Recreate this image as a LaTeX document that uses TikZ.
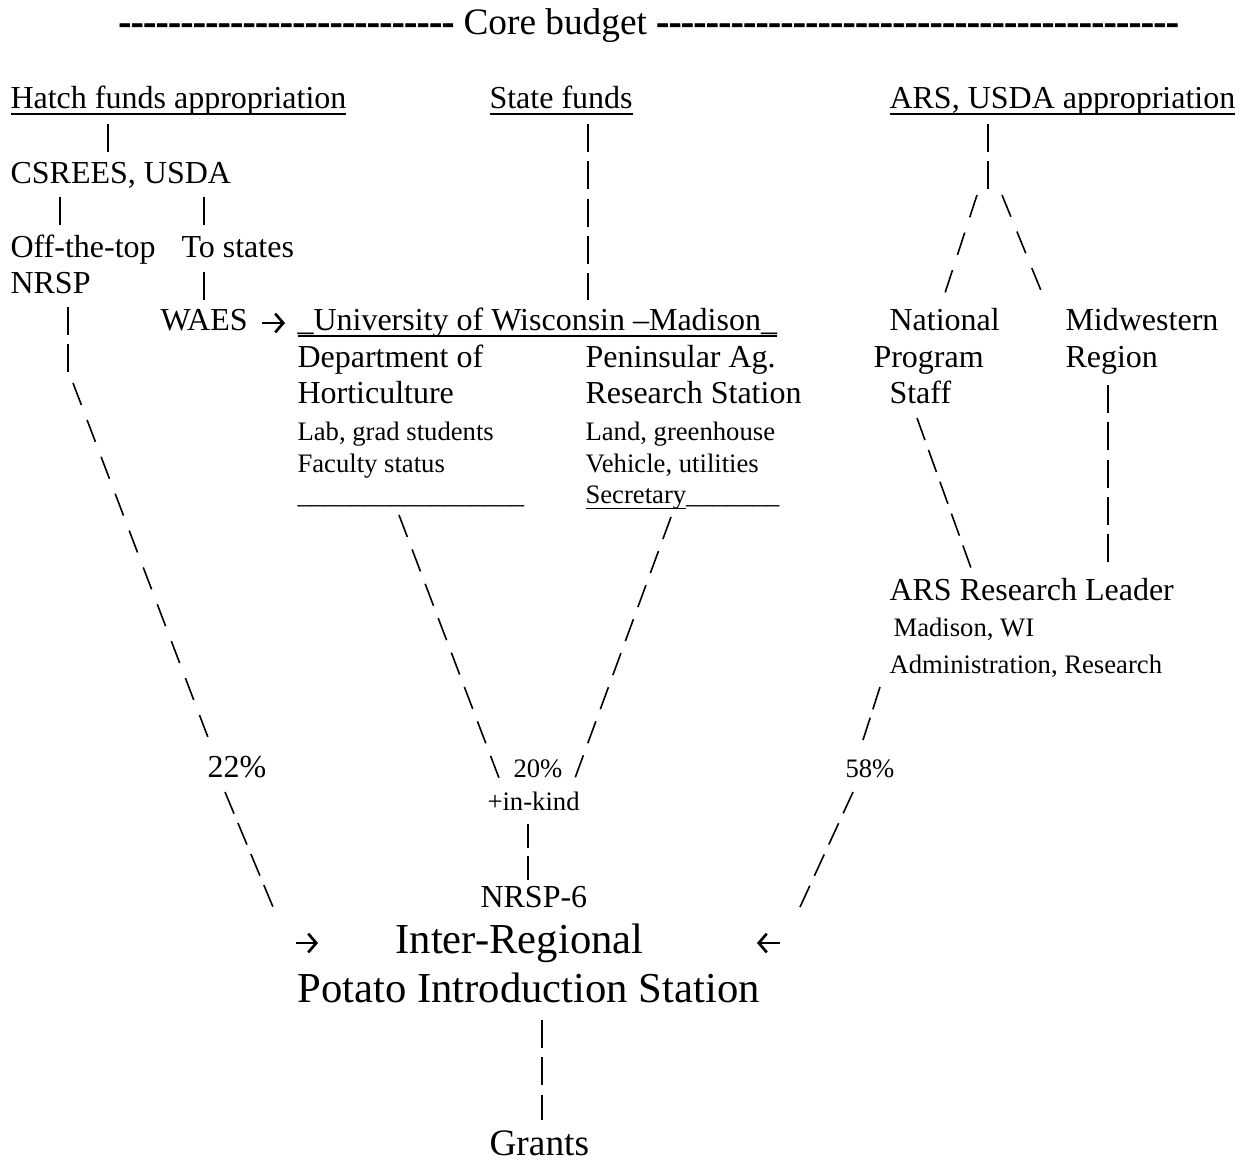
\documentclass[tikz,border=0pt]{standalone}
\usepackage{fontspec}
\setmainfont{Liberation Serif}
\newfontfamily\dashfont{Liberation Serif}[BoldFeatures={FakeBold=2}]
\usetikzlibrary{calc,arrows.meta}
\newcommand\undl[1]{\setbox0=\hbox{#1}\rlap{\rule[-.22em]{\wd0}{.05em}}\box0}
\newcommand\dashrun[1]{{\dashfont\bfseries\foreach\dd in {1,...,#1}{-\kern0pt}}}
\begin{document}
\begin{tikzpicture}[x=0.375pt, y=-0.375pt,
    txt/.style={anchor=base west, inner sep=0pt, font=\fontsize{12}{14}\selectfont},
    smalltxt/.style={txt, font=\fontsize{10}{12}\selectfont},
    headtxt/.style={txt, font=\fontsize{14}{16}\selectfont},
    bigtxt/.style={txt, font=\fontsize{16}{19}\selectfont},
    bars/.style={line width=.6pt, dash pattern=on 10.5pt off 3.5pt},
    slants/.style={line width=.6pt, dash pattern=on 8.8pt off #1},
    slants/.default=6pt,
    arr/.style={line width=1pt, -{Straight Barb[length=3pt,width=7pt]}}]
  \useasboundingbox (0,0) rectangle (1242,1161);
  \node[headtxt] (head) at (118,34) {\dashrun{27} Core budget \dashrun{42}};
  % sources
  \node[txt] (hatch) at (10,108) {\undl{Hatch funds appropriation}};
  \node[txt] (state) at (489,108) {\undl{State funds}};
  \node[txt] (arsapp) at (889,108) {\undl{ARS, USDA appropriation}};
  \node[txt] (csrees) at (10,183) {CSREES, USDA};
  \node[txt] (offtop) at (10,257) {Off-the-top};
  \node[txt] (nrsp) at (10,293) {NRSP};
  \node[txt] (tostates) at (181,257) {To states};
  \node[txt] (waes) at (160,330) {WAES};
  % university
  \node[txt] (uw) at (297,330) {\undl{\_University of Wisconsin –Madison\_}};
  \node[txt] (dept) at (297,367) {Department of};
  \node[txt] (hort) at (297,403) {Horticulture};
  \node[smalltxt] (lab) at (297,440) {Lab, grad students};
  \node[smalltxt] (fac) at (297,472) {Faculty status};
  \node[smalltxt] (hline) at (297,503) {\_\_\_\_\_\_\_\_\_\_\_\_\_\_\_\_\_};
  \node[txt] (pen) at (585,367) {Peninsular Ag.};
  \node[txt] (pres) at (585,403) {Research Station};
  \node[smalltxt] (land) at (585,440) {Land, greenhouse};
  \node[smalltxt] (veh) at (585,472) {Vehicle, utilities};
  \node[smalltxt] (sec) at (585,503) {\undl{Secretary}\_\_\_\_\_\_\_};
  % ARS
  \node[txt] (natl) at (889,330) {National};
  \node[txt] (prog) at (873,367) {Program};
  \node[txt] (staff) at (889,403) {Staff};
  \node[txt] (midw) at (1065,330) {Midwestern};
  \node[txt] (region) at (1065,367) {Region};
  \node[txt] (leader) at (889,600) {ARS Research Leader};
  \node[smalltxt] (mad) at (893,636) {Madison, WI};
  \node[smalltxt] (admin) at (889,673) {Administration, Research};
  % shares
  \node[txt] (p22) at (207,777) {22\%};
  \node[smalltxt] (p20) at (513,777) {20\%};
  \node[smalltxt] (inkind) at (487,810) {+in-kind};
  \node[smalltxt] (p58) at (845,777) {58\%};
  \node[txt] (nrsp6) at (480,907) {NRSP-6};
  \node[bigtxt] (inter) at (395,953) {Inter-Regional};
  \node[bigtxt] (potato) at (297,1002) {Potato Introduction Station};
  \node[headtxt] (grants) at (489,1155) {Grants};

  % Hatch branch
  \draw[bars] ($(hatch.base west)+(98,16)$) -- ($(csrees.base west)+(98,-31)$);
  \draw[bars] ($(csrees.base west)+(50,14)$) -- ($(offtop.base west)+(50,-30)$);
  \draw[bars] ($(csrees.base west)+(194,14)$) -- ($(tostates.base west)+(23,-30)$);
  \draw[bars] ($(tostates.base west)+(23,15)$) -- ($(waes.base west)+(44,-30)$);
  \draw[arr] ($(waes.base west)+(102,-7)$) -- ($(uw.base west)+(-12,-7)$);
  \draw[bars] ($(nrsp.base west)+(58,14)$) -- ($(nrsp.base west)+(58,80)$);
  \draw[slants] ($(nrsp.base west)+(63,90)$) -- ($(p22.base west)+(2,-37)$);
  \draw[slants=3.8pt] ($(p22.base west)+(18,15)$) -- ($(inter.base west)+(-122,-46)$);
  \draw[arr] ($(inter.base west)+(-99,-10)$) -- ($(inter.base west)+(-77,-10)$);
  % state branch
  \draw[bars] ($(state.base west)+(99,16)$) -- ($(uw.base west)+(291,-30)$);
  \draw[slants=5pt] ($(hline.base west)+(102,12)$) -- ($(p20.base west)+(-14,1)$);
  \draw[slants=4.8pt] ($(sec.base west)+(86,14)$) -- ($(p20.base west)+(62,1)$);
  \draw[bars, dash pattern=on 9pt off 3pt] ($(inkind.base west)+(41,14)$) -- ($(nrsp6.base west)+(48,-27)$);
  % ARS branch
  \coordinate (fork) at ($(arsapp.base west)+(99,82)$);
  \draw[bars] ($(arsapp.base west)+(99,16)$) -- (fork);
  \draw[slants] ($(fork)+(-11,5)$) -- ($(natl.base west)+(56,-37)$);
  \draw[slants] ($(fork)+(14,5)$) -- ($(midw.base west)+(-23,-37)$);
  \draw[bars] ($(region.base west)+(43,18)$) -- ($(leader.base west)+(219,-32)$);
  \draw[slants=3.9pt] ($(staff.base west)+(28,15)$) -- ($(leader.base west)+(82,-32)$);
  \draw[slants=3.3pt] ($(admin.base west)+(-9,14)$) -- ($(p58.base west)+(18,-37)$);
  \draw[slants=4.1pt] ($(p58.base west)+(8,15)$) -- ($(inter.base west)+(405,-46)$);
  \draw[arr] ($(inter.base west)+(385,-10)$) -- ($(inter.base west)+(362,-10)$);
  % grants
  \draw[bars] ($(potato.base west)+(245,18)$) -- ($(grants.base west)+(53,-35)$);
\end{tikzpicture}
\end{document}
